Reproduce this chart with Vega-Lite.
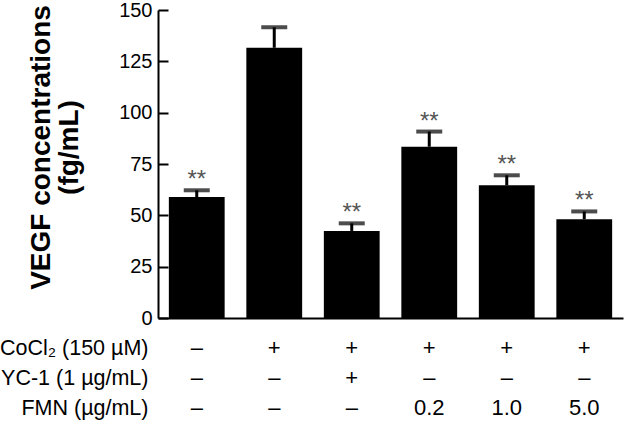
{
  "$schema": "https://vega.github.io/schema/vega-lite/v6.json",
  "width": 465,
  "height": 308,
  "autosize": {"type": "none"},
  "padding": {"left": 158, "top": 10, "right": 1, "bottom": 105},
  "config": {"view": {"stroke": null}, "font": "Liberation Sans", "axis": {"grid": false}},
  "data": {
    "values": [
      {"condition": "–|–|–", "value": 58.9, "upper": 62.2, "sig": "**"},
      {"condition": "+|–|–", "value": 131.6, "upper": 141.6, "sig": ""},
      {"condition": "+|+|–", "value": 42.4, "upper": 46.1, "sig": "**"},
      {"condition": "+|–|0.2", "value": 83.4, "upper": 90.8, "sig": "**"},
      {"condition": "+|–|1.0", "value": 64.6, "upper": 69.5, "sig": "**"},
      {"condition": "+|–|5.0", "value": 48.1, "upper": 51.9, "sig": "**"}
    ]
  },
  "encoding": {
    "x": {
      "field": "condition",
      "type": "nominal",
      "sort": null,
      "scale": {"paddingInner": 0.28, "paddingOuter": 0.14},
      "axis": {
        "labelExpr": "split(datum.label, '|')",
        "labelAngle": 0,
        "labelFontSize": 22,
        "labelLineHeight": 30,
        "labelBaseline": "top",
        "labelPadding": 19,
        "labelColor": "black",
        "labelOverlap": false,
        "labelLimit": 0,
        "ticks": false,
        "domainWidth": 2,
        "domainColor": "black",
        "title": ["CoCl₂ (150 µM)", "YC-1 (1 µg/mL)", "FMN (µg/mL)"],
        "titleX": -10,
        "titleY": 19,
        "titleAlign": "right",
        "titleBaseline": "top",
        "titleFontSize": 21.5,
        "titleFontWeight": "normal",
        "titleLineHeight": 30,
        "titleColor": "black"
      }
    }
  },
  "layer": [
    {
      "mark": {"type": "bar", "color": "black"},
      "encoding": {
        "y": {
          "field": "value",
          "type": "quantitative",
          "scale": {"domain": [0, 150], "nice": false},
          "axis": {
            "values": [0, 25, 50, 75, 100, 125, 150],
            "tickSize": -10,
            "tickWidth": 2,
            "tickColor": "black",
            "domainWidth": 2,
            "domainColor": "black",
            "labelFontSize": 20,
            "labelColor": "black",
            "labelPadding": 16,
            "title": ["VEGF concentrations", "(fg/mL)"],
            "titleX": -109,
            "titleY": 137,
            "titleAngle": -90,
            "titleAlign": "center",
            "titleBaseline": "alphabetic",
            "titleFontSize": 28,
            "titleFontWeight": "bold",
            "titleLineHeight": 28,
            "titleColor": "black"
          }
        }
      }
    },
    {
      "mark": {"type": "rule", "color": "black", "strokeWidth": 3},
      "encoding": {
        "y": {"field": "value", "type": "quantitative"},
        "y2": {"field": "upper"}
      }
    },
    {
      "mark": {"type": "tick", "color": "black", "size": 26, "thickness": 4},
      "encoding": {"y": {"field": "upper", "type": "quantitative"}}
    },
    {
      "mark": {"type": "text", "color": "#555555", "fontSize": 24, "baseline": "alphabetic", "dy": -3},
      "encoding": {
        "y": {"field": "upper", "type": "quantitative"},
        "text": {"field": "sig"}
      }
    }
  ]
}
